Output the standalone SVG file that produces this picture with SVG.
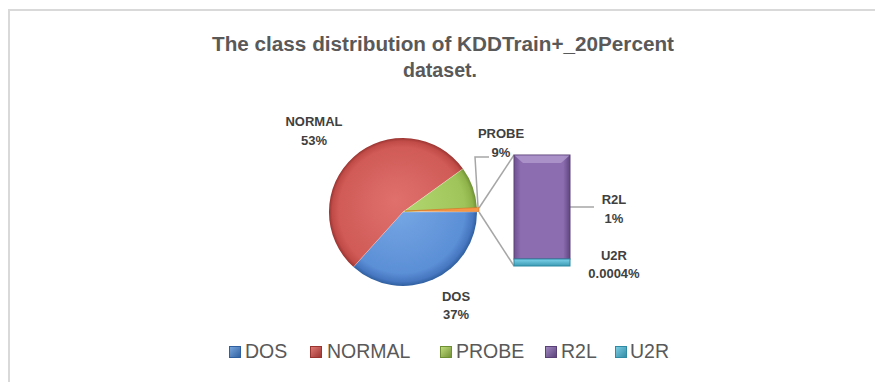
<svg xmlns="http://www.w3.org/2000/svg" width="875" height="382" viewBox="0 0 875 382">
<style>
.title{font-family:"Liberation Sans",Arial,sans-serif;font-weight:bold;font-size:20px;fill:#595959;text-anchor:middle}
.lbl{font-family:"Liberation Sans",Arial,sans-serif;font-weight:bold;font-size:13px;fill:#404040;text-anchor:middle}
.leg{font-family:"Liberation Sans",Arial,sans-serif;font-size:19.5px;fill:#595959}
.lead{stroke:#a6a6a6;stroke-width:1.5;fill:none}
.edge{stroke:#ffffff;stroke-opacity:0.35;stroke-width:0.8}
</style>
<defs>
<radialGradient id="gDos" gradientUnits="userSpaceOnUse" cx="403" cy="212" r="74" fx="395" fy="200">
<stop offset="0" stop-color="#7aaae6"/><stop offset="0.85" stop-color="#5b8fd6"/><stop offset="0.95" stop-color="#4677c0"/><stop offset="1" stop-color="#2f5f9f"/></radialGradient>
<radialGradient id="gNor" gradientUnits="userSpaceOnUse" cx="403" cy="212" r="74" fx="395" fy="200">
<stop offset="0" stop-color="#e0706c"/><stop offset="0.85" stop-color="#d05b57"/><stop offset="0.95" stop-color="#c04b47"/><stop offset="1" stop-color="#9a3431"/></radialGradient>
<radialGradient id="gPro" gradientUnits="userSpaceOnUse" cx="403" cy="212" r="74" fx="395" fy="200">
<stop offset="0" stop-color="#b5d873"/><stop offset="0.85" stop-color="#9fc55a"/><stop offset="0.95" stop-color="#8fb34a"/><stop offset="1" stop-color="#6f8f34"/></radialGradient>
<linearGradient id="gBar" x1="0" y1="0" x2="1" y2="0">
<stop offset="0" stop-color="#6e5192"/><stop offset="0.12" stop-color="#8c6db0"/><stop offset="0.88" stop-color="#8c6db0"/><stop offset="1" stop-color="#5f4580"/></linearGradient>
<linearGradient id="gCy" x1="0" y1="0" x2="0" y2="1">
<stop offset="0" stop-color="#7dd3ea"/><stop offset="1" stop-color="#3b9ab3"/></linearGradient>
<linearGradient id="sqDos" x1="0" y1="0" x2="1" y2="1"><stop offset="0" stop-color="#79a8e0"/><stop offset="1" stop-color="#2f5f9f"/></linearGradient>
<linearGradient id="sqNor" x1="0" y1="0" x2="1" y2="1"><stop offset="0" stop-color="#e37a76"/><stop offset="1" stop-color="#9a3431"/></linearGradient>
<linearGradient id="sqPro" x1="0" y1="0" x2="1" y2="1"><stop offset="0" stop-color="#c4e07f"/><stop offset="1" stop-color="#6f8f34"/></linearGradient>
<linearGradient id="sqR2l" x1="0" y1="0" x2="1" y2="1"><stop offset="0" stop-color="#a48ac4"/><stop offset="1" stop-color="#5a4278"/></linearGradient>
<linearGradient id="sqU2r" x1="0" y1="0" x2="1" y2="1"><stop offset="0" stop-color="#7fd0e6"/><stop offset="1" stop-color="#2f8aa3"/></linearGradient>
</defs>
<rect x="0" y="0" width="875" height="382" fill="#ffffff"/>
<rect x="9" y="10" width="880" height="390" fill="#ffffff" stroke="#d9d9d9" stroke-width="2"/>
<g id="title">
<text class="title" x="443" y="51" textLength="462" lengthAdjust="spacingAndGlyphs">The class distribution of KDDTrain+_20Percent</text>
<text class="title" x="440" y="77" textLength="74" lengthAdjust="spacingAndGlyphs">dataset.</text>
</g>
<g id="connectors">
<polyline class="lead" points="478,207 475,157 489,157"/>
<line class="lead" x1="479" y1="208" x2="514" y2="155"/>
<line class="lead" x1="479" y1="212" x2="514" y2="266"/>
<line class="lead" x1="570" y1="207" x2="594" y2="207"/>
</g>
<g id="dos">
<path d="M403,212 L477,212 A74,74 0 0,1 353.5,267 Z" fill="url(#gDos)"/>
<path class="edge" d="M403,212 L477,212"/>
<text class="lbl" x="456" y="301">DOS</text>
<text class="lbl" x="456" y="319">37%</text>
</g>
<g id="normal">
<path d="M403,212 L353.5,267 A74,74 0 1,1 463,168.7 Z" fill="url(#gNor)"/>
<path class="edge" d="M403,212 L353.5,267"/>
<text class="lbl" x="314" y="126">NORMAL</text>
<text class="lbl" x="314" y="145">53%</text>
</g>
<g id="probe">
<path d="M403,212 L463,168.7 A74,74 0 0,1 476.9,208 Z" fill="url(#gPro)"/>
<path class="edge" d="M403,212 L463,168.7"/>
<text class="lbl" x="501" y="138">PROBE</text>
<text class="lbl" x="501" y="157">9%</text>
</g>
<g id="other">
<path d="M405,211 L478.9,207.5 A74,74 0 0,1 479,211.5 Z" fill="#f79646" stroke="#d07020" stroke-width="0.6"/>
</g>
<g id="r2l">
<rect x="514" y="155" width="56" height="104" fill="url(#gBar)" stroke="#5a4278" stroke-width="1"/>
<polygon points="514.5,155.5 569.5,155.5 561,163 523,163" fill="#b29bd0" opacity="0.8"/>
<text class="lbl" x="614" y="204">R2L</text>
<text class="lbl" x="614" y="223">1%</text>
</g>
<g id="u2r">
<rect x="514" y="259" width="56" height="7" fill="url(#gCy)" stroke="#2f8aa3" stroke-width="1"/>
<text class="lbl" x="614" y="260">U2R</text>
<text class="lbl" x="614" y="278">0.0004%</text>
</g>
<g id="legend">
<rect x="229.5" y="346.5" width="11" height="11" fill="url(#sqDos)" stroke="#2f5f9f" stroke-width="1"/>
<text class="leg" x="245" y="358">DOS</text>
<rect x="310.5" y="346.5" width="11" height="11" fill="url(#sqNor)" stroke="#9a3431" stroke-width="1"/>
<text class="leg" x="327" y="358">NORMAL</text>
<rect x="440.5" y="346.5" width="11" height="11" fill="url(#sqPro)" stroke="#6f8f34" stroke-width="1"/>
<text class="leg" x="456" y="358">PROBE</text>
<rect x="545.5" y="346.5" width="11" height="11" fill="url(#sqR2l)" stroke="#5a4278" stroke-width="1"/>
<text class="leg" x="561" y="358">R2L</text>
<rect x="615.5" y="346.5" width="11" height="11" fill="url(#sqU2r)" stroke="#2f8aa3" stroke-width="1"/>
<text class="leg" x="630" y="358">U2R</text>
</g>
</svg>
